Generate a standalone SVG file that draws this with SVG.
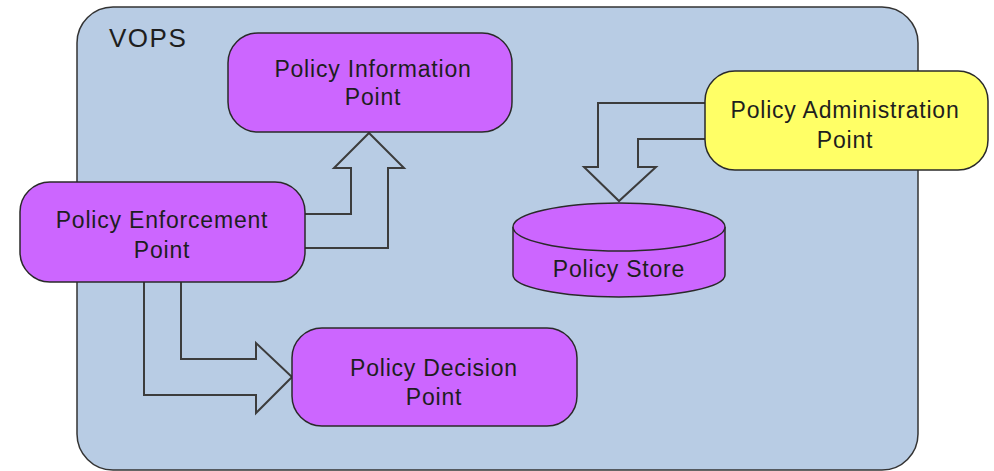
<svg xmlns="http://www.w3.org/2000/svg" width="994" height="471" viewBox="0 0 994 471">
  <style>
    .container { fill: #b8cce4; stroke: #333333; stroke-width: 1.5; }
    .node { fill: #cc66ff; stroke: #2a2a2a; stroke-width: 1.5; }
    .admin { fill: #ffff66; stroke: #2a2a2a; stroke-width: 1.5; }
    .label { font-family: "Liberation Sans", Arial, sans-serif; font-size: 23px; letter-spacing: 0.8px; fill: #1e1e1e; text-anchor: middle; }
    .title { font-family: "Liberation Sans", Arial, sans-serif; font-size: 26px; letter-spacing: 1.5px; fill: #1e1e1e; }
    .flow { fill: none; stroke: #3c3c3c; stroke-width: 2; stroke-linejoin: miter; }
  </style>

  <rect width="994" height="471" fill="#ffffff"/>

  <g id="vops">
    <rect class="container" x="77" y="7" width="841" height="463" rx="36" ry="36"/>
    <text class="title" x="109" y="47">VOPS</text>
  </g>

  <g id="connectors">
    <!-- enforcement to information (block arrow up) -->
    <path class="flow" d="M305,214 H351 V168 H334 L369,133 L404,168 H388 V248 H305"/>
    <!-- enforcement to decision (block arrow right) -->
    <path class="flow" d="M181,282 V359 H256 V343 L292,377 L256,413 V395 H144 V282"/>
    <!-- administration to store (block arrow down) -->
    <path class="flow" d="M705,103 H598 V167 H584 L619,201 L656,167 H638 V139 H705"/>
  </g>

  <g id="pip">
    <rect class="node" x="228" y="33" width="284" height="99" rx="30" ry="30"/>
    <text class="label" x="373" y="77">Policy Information</text>
    <text class="label" x="373" y="105">Point</text>
  </g>

  <g id="pep">
    <rect class="node" x="20" y="182" width="285" height="100" rx="30" ry="30"/>
    <text class="label" x="162" y="228">Policy Enforcement</text>
    <text class="label" x="162" y="258">Point</text>
  </g>

  <g id="pdp">
    <rect class="node" x="292" y="328" width="285" height="98" rx="30" ry="30"/>
    <text class="label" x="434" y="376">Policy Decision</text>
    <text class="label" x="434" y="405">Point</text>
  </g>

  <g id="pap">
    <rect class="admin" x="705" y="71" width="283" height="99" rx="30" ry="30"/>
    <text class="label" x="845" y="118">Policy Administration</text>
    <text class="label" x="845" y="148">Point</text>
  </g>

  <g id="store">
    <path class="node" d="M513,227 V275 A106,22 0 0 0 725,275 V227"/>
    <ellipse class="node" cx="619" cy="227" rx="106" ry="24"/>
    <text class="label" x="619" y="277">Policy Store</text>
  </g>
</svg>
